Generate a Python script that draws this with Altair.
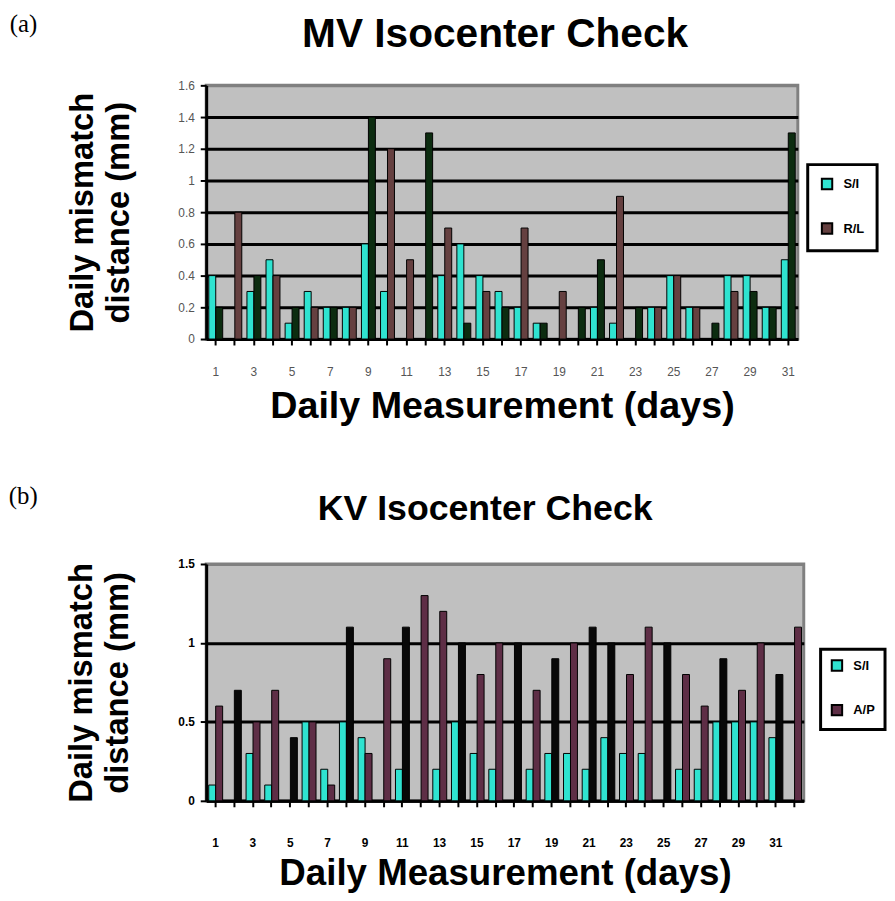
import altair as alt
import pandas as pd

FONT = "Liberation Sans"

# ---------------- (a) MV Isocenter Check ----------------
mv_days = list(range(1, 32))
mv_si = [0.4, 0.0, 0.3, 0.5, 0.1, 0.3, 0.2, 0.2, 0.6, 0.3, 0.0, 0.0, 0.4, 0.6, 0.4, 0.3,
         0.2, 0.1, 0.0, 0.0, 0.2, 0.1, 0.0, 0.2, 0.4, 0.2, 0.0, 0.4, 0.4, 0.2, 0.5]
mv_rl = [0.2, 0.8, 0.4, 0.4, 0.2, 0.2, 0.2, 0.2, 1.4, 1.2, 0.5, 1.3, 0.7, 0.1, 0.3, 0.2,
         0.7, 0.1, 0.3, 0.2, 0.5, 0.9, 0.2, 0.2, 0.4, 0.2, 0.1, 0.3, 0.3, 0.2, 1.3]
# colour of each second bar as printed: g = dark green, b = brown
mv_tone = ["g", "b", "g", "b", "g", "b", "g", "b", "g", "b", "b", "g", "b", "g", "b", "g",
           "b", "g", "b", "g", "g", "b", "g", "b", "b", "b", "g", "b", "g", "g", "g"]
mv_ticks = [0, 0.2, 0.4, 0.6, 0.8, 1.0, 1.2, 1.4, 1.6]

# ---------------- (b) KV Isocenter Check ----------------
kv_days = list(range(1, 33))
kv_si = [0.1, 0.0, 0.3, 0.1, 0.0, 0.5, 0.2, 0.5, 0.4, 0.0, 0.2, 0.0, 0.2, 0.5, 0.3, 0.2,
         0.0, 0.2, 0.3, 0.3, 0.2, 0.4, 0.3, 0.3, 0.0, 0.2, 0.2, 0.5, 0.5, 0.5, 0.4, 0.0]
kv_ap = [0.6, 0.7, 0.5, 0.7, 0.4, 0.5, 0.1, 1.1, 0.3, 0.9, 1.1, 1.3, 1.2, 1.0, 0.8, 1.0,
         1.0, 0.7, 0.9, 1.0, 1.1, 1.0, 0.8, 1.1, 1.0, 0.8, 0.6, 0.9, 0.7, 1.0, 0.8, 1.1]
# colour of each second bar as printed: m = maroon, k = black
kv_tone = ["m", "k", "m", "m", "k", "m", "m", "k", "m", "m", "k", "m", "m", "k", "m", "m",
           "k", "m", "k", "m", "k", "k", "m", "m", "k", "m", "m", "k", "m", "m", "k", "m"]
kv_ticks = [0, 0.5, 1.0, 1.5]


def make_panel(days, si, second, tones, tone_keys, key_domain, key_range, legend_values,
               title, tag, y_max, y_ticks, width, height, leg_x, leg_y, leg_pad,
               label_color, label_bold, x_label_pad, x_title_pad, x_title_size,
               y_title_pad, title_size, title_offset, title_dx, tag_offset):
    rows = []
    for d, s, v, t in zip(days, si, second, tones):
        rows.append(dict(day=d, slot="a", value=s, key="S/I"))
        rows.append(dict(day=d, slot="b", value=v, key=tone_keys[t]))
    df = pd.DataFrame(rows)
    top_test = "datum.value >= %f" % (y_max - 1e-6)
    chart = alt.Chart(df).mark_bar(stroke="black", strokeWidth=1).encode(
        x=alt.X("day:O",
                scale=alt.Scale(paddingInner=0.27, paddingOuter=0.135),
                axis=alt.Axis(title="Daily Measurement (days)", labelAngle=0,
                              labelExpr="datum.value % 2 == 1 ? datum.label : ''",
                              domainColor="black", domainWidth=3,
                              tickColor="black", tickWidth=2, tickSize=6,
                              labelFont=FONT, labelFontSize=12, labelColor=label_color,
                              labelFontWeight=label_bold, labelPadding=x_label_pad,
                              titleFont=FONT, titleFontSize=x_title_size,
                              titleFontWeight="bold", titleColor="black",
                              titlePadding=x_title_pad)),
        xOffset=alt.XOffset("slot:N", scale=alt.Scale(paddingInner=0, paddingOuter=0)),
        y=alt.Y("value:Q",
                scale=alt.Scale(domain=[0, y_max], nice=False, zero=True),
                axis=alt.Axis(values=y_ticks, format="~g", grid=True,
                              gridColor={"condition": {"test": top_test, "value": "#808080"},
                                         "value": "black"},
                              gridWidth=3,
                              domainColor="black", domainWidth=3,
                              tickColor="black", tickWidth=2, tickSize=6,
                              labelFont=FONT, labelFontSize=12, labelColor=label_color,
                              labelFontWeight=label_bold, labelPadding=6,
                              title=["Daily mismatch", "distance (mm)"],
                              titleFont=FONT, titleFontSize=33, titleFontWeight="bold",
                              titleColor="black", titleLineHeight=36,
                              titlePadding=y_title_pad)),
        color=alt.Color("key:N",
                        scale=alt.Scale(domain=key_domain, range=key_range),
                        legend=alt.Legend(values=legend_values, title=None, orient="none",
                                          legendX=leg_x, legendY=leg_y, padding=leg_pad,
                                          symbolType="square", symbolSize=110,
                                          symbolStrokeColor="black", symbolStrokeWidth=2,
                                          labelFont=FONT, labelFontSize=13,
                                          labelFontWeight="bold", labelColor="black",
                                          labelOffset=10)),
    ).properties(
        width=width, height=height,
        title=alt.Title(title, font=FONT, fontSize=title_size, fontWeight="bold",
                        color="black", anchor="middle", frame="group",
                        offset=title_offset, dx=title_dx),
    )
    return alt.vconcat(chart, title=alt.Title(tag, anchor="start", frame="bounds",
                                               font="Liberation Serif", fontSize=25,
                                               fontWeight="normal", color="black",
                                               dx=-56, offset=tag_offset))


SI_COLOR = "#2FE3D0"

panel_a = make_panel(
    mv_days, mv_si, mv_rl, mv_tone, {"g": "R/L (green)", "b": "R/L"},
    ["S/I", "R/L", "R/L (green)"], [SI_COLOR, "#654040", "#0C2C10"], ["S/I", "R/L"],
    "MV Isocenter Check", "(a)", 1.6, mv_ticks, 597, 256, 607, 80, 13,
    "#555555", "normal", 22, 10, 38, 43, 41, 24, -7, -25)

panel_b = make_panel(
    kv_days, kv_si, kv_ap, kv_tone, {"m": "A/P", "k": "A/P (black)"},
    ["S/I", "A/P", "A/P (black)"], [SI_COLOR, "#5E2E46", "#080808"], ["S/I", "A/P"],
    "KV Isocenter Check", "(b)", 1.5, kv_ticks, 603, 239, 620, 86, 10,
    "black", "bold", 31, 7, 37, 44, 36, 30, -20, -19)

chart = alt.vconcat(panel_a, panel_b, spacing=57, padding=0).resolve_scale(
    color="independent", x="independent", y="independent"
).configure_view(
    fill="#C0C0C0", stroke="#808080", strokeWidth=3
).configure_legend(
    strokeColor="black", strokeWidth=3, fillColor="white", rowPadding=26
)

chart.save("out.html", embed_options={"renderer": "svg", "actions": False})
